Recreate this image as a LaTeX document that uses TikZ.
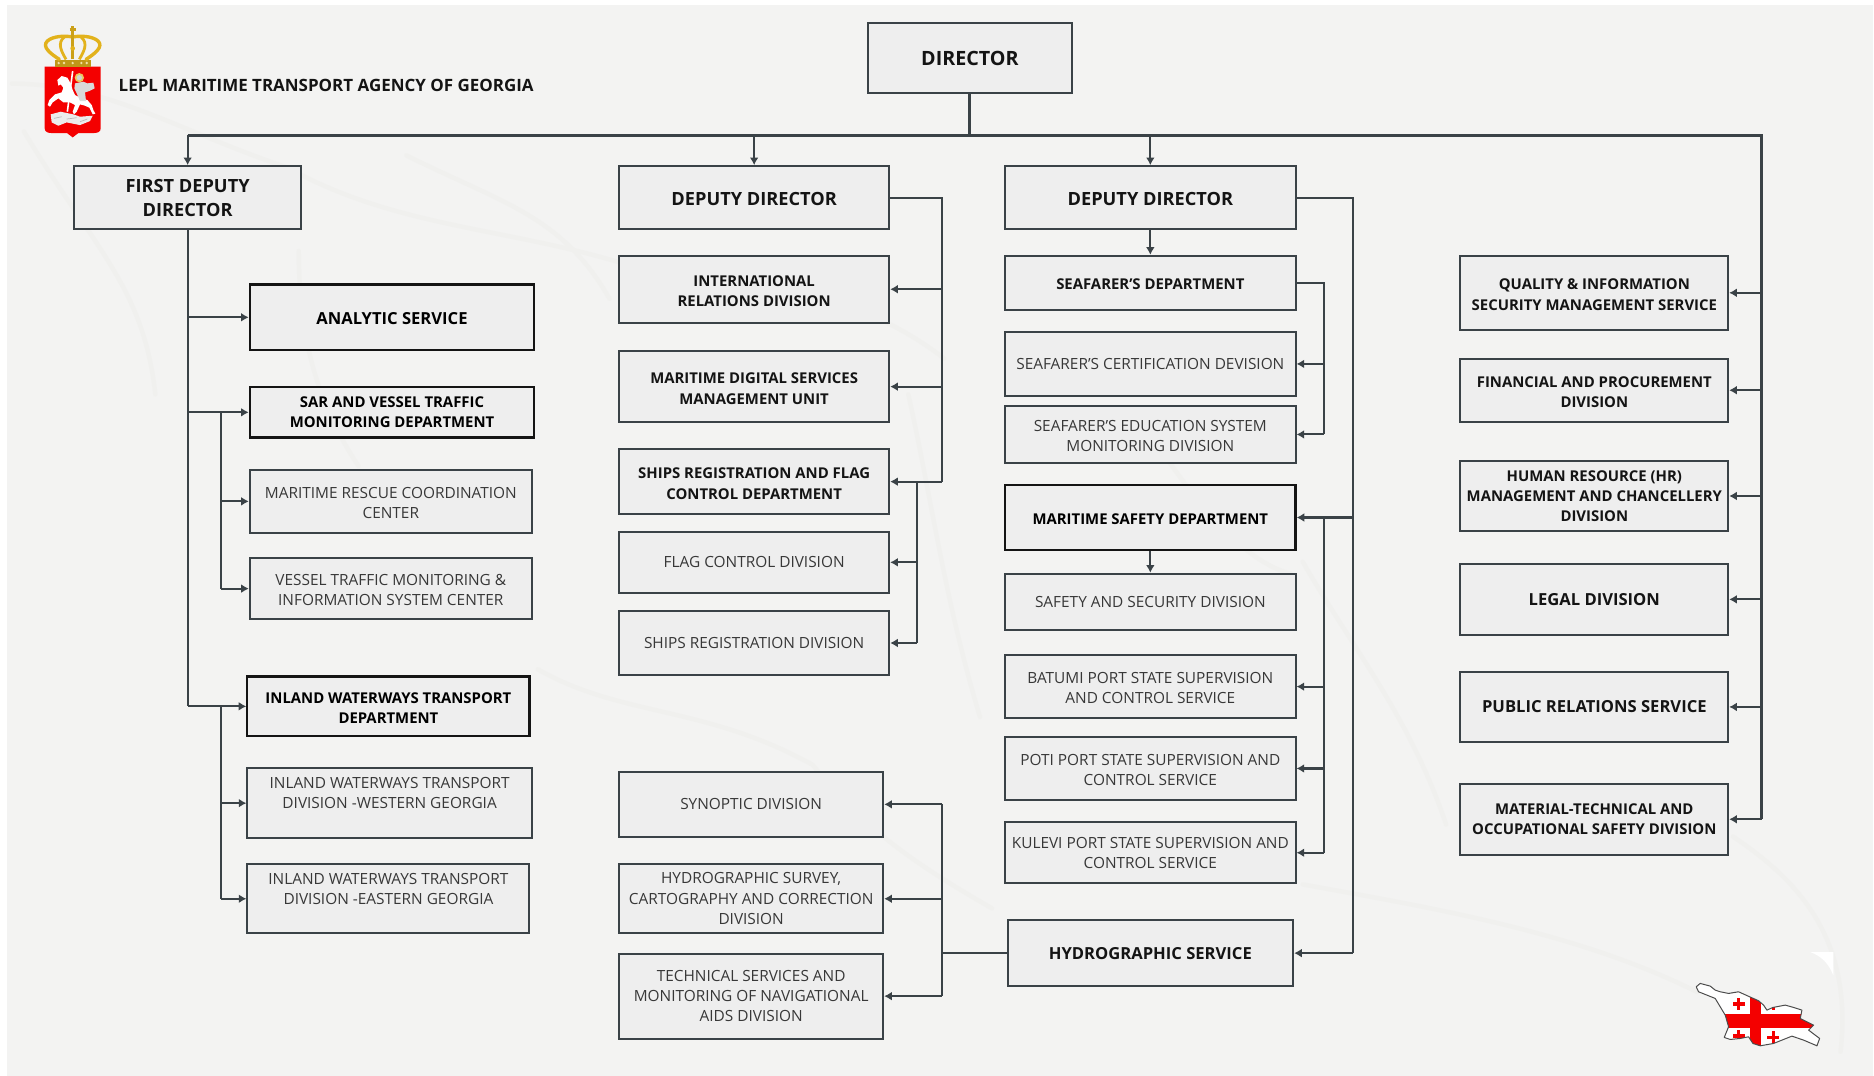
\documentclass[tikz,border=0pt]{standalone}
\usepackage{fontspec}
\setmainfont{Open Sans}
\usetikzlibrary{arrows.meta}
\definecolor{panel}{HTML}{F3F3F2}
\definecolor{boxfill}{HTML}{EEEEEE}
\definecolor{edge}{HTML}{3A4247}
\definecolor{wm}{HTML}{F0F0EE}
\definecolor{gold}{HTML}{E2B21C}
\definecolor{flagred}{HTML}{F40000}
\newcommand{\dn}{\rule{0pt}{7.3pt}}
\tikzset{
  boxst/.style={draw=edge,fill=boxfill,line width=1pt,align=center,inner sep=0pt,text=black!78},
  hvy/.style={draw=black!92,line width=1.1pt,text=black},
  regular/.style={font=\fontsize{7.7}{10.15}\selectfont},
  strong/.style={font=\fontsize{7.45}{10.15}\selectfont\bfseries,text=black!92},
  big/.style={font=\fontsize{8.3}{11.6}\selectfont\bfseries,text=black!92},
  lead/.style={font=\fontsize{9.1}{11.9}\selectfont\bfseries,text=black!92},
  bigger/.style={font=\fontsize{9.85}{12}\selectfont\bfseries,text=black!92},
  conn/.style={draw=edge,line width=1.05pt},
  bus/.style={draw=edge,line width=1.5pt},
  arr/.style={draw=edge,line width=1.05pt,-{Latex[length=3.8pt,width=4.4pt]}},
  wmline/.style={draw=wm,line width=2.2pt,line cap=round,line join=round},
}
\newcommand{\bx}[7][]{%
  \pgfmathsetlengthmacro{\bw}{(#5-#3)*0.5977pt}%
  \pgfmathsetlengthmacro{\bh}{(#6-#4)*0.5977pt}%
  \node[boxst,#1,minimum width=\bw,minimum height=\bh] (#2) at ({(#3+#5)/2},{(#4+#6)/2}) {#7};}
\begin{document}
\begin{tikzpicture}[x=0.5977pt,y=-0.5977pt]
\useasboundingbox (0,0) rectangle (1568,900.3);
\fill[white] (0,0) rectangle (1568,900.3);
\fill[panel] (6,4) rectangle (1567,900.3);
% faint watermark map
\draw[wmline] (10,70) .. controls (90,70) and (150,110) .. (240,140) .. controls (330,190) and (420,190) .. (520,220) .. controls (600,240) and (700,230) .. (790,300);
\draw[wmline] (20,110) .. controls (80,210) and (120,240) .. (130,330);
\draw[wmline] (340,130) .. controls (420,170) and (470,180) .. (510,250);
\draw[wmline] (250,210) .. controls (250,270) and (260,330) .. (300,390);
\draw[wmline] (450,560) .. controls (520,600) and (590,590) .. (680,640) .. controls (720,690) and (760,720) .. (830,760);
\draw[wmline] (1090,470) .. controls (1130,540) and (1180,600) .. (1210,690);
\draw[wmline] (960,360) .. controls (1000,420) and (1040,470) .. (1080,480);
\draw[wmline] (1450,700) .. controls (1510,740) and (1550,790) .. (1540,880);
\draw[wmline] (1090,740) .. controls (1200,760) and (1320,780) .. (1420,830);
\draw[wmline] (760,330) .. controls (780,420) and (790,500) .. (820,600);
% title and emblem
\node[anchor=west,inner sep=0pt,font=\fontsize{8.48}{10}\selectfont\bfseries,text=black!92] (title) at (99,71.5) {LEPL MARITIME TRANSPORT AGENCY OF GEORGIA};
\begin{scope}[shift={(25.1,12.55)},x=0.1668pt,y=-0.1668pt]
  \fill[flagred] (44,155) -- (212,155) -- (212,340) .. controls (212,352) and (200,354) .. (190,354) -- (145,354) -- (128,367) -- (111,354) -- (66,354) .. controls (56,354) and (44,352) .. (44,340) -- cycle;
  \fill[gold!85!black] (75,134) rectangle (182,155);
  \foreach \p in {86,102,128,154,170}{\fill[gold!40] (\p,144) circle (4);}
  \draw[gold,line width=1.7pt,line cap=round] (88,133) .. controls (60,115) and (35,95) .. (52,78) .. controls (70,62) and (108,62) .. (128,66) .. controls (148,62) and (186,62) .. (204,78) .. controls (221,95) and (196,115) .. (168,133);
  \draw[gold,line width=1.4pt] (108,133) .. controls (95,110) and (80,85) .. (103,66);
  \draw[gold,line width=1.4pt] (148,133) .. controls (161,110) and (176,85) .. (153,66);
  \draw[gold!90!black,line width=1.8pt] (128,133) -- (128,50);
  \draw[gold!90!black,line width=1.5pt] (119,42) -- (137,42) (128,33) -- (128,52);
  \fill[gold] (128,100) circle (7);
  % rider and horse
  \fill[gold!70!white] (148,188) circle (14);
  \fill[gray!35] (148,188) circle (8);
  \fill[white] (82,195) -- (95,183) -- (112,188) -- (122,205) -- (128,225) -- (135,240) -- (150,248) -- (172,255) -- (185,270) -- (190,285) -- (196,296) -- (188,298) -- (178,278) -- (165,272) -- (150,268) -- (140,290) -- (132,298) -- (128,290) -- (135,270) -- (120,262) -- (100,262) -- (85,250) -- (68,262) -- (60,275) -- (53,270) -- (58,255) -- (75,238) -- (95,232) -- (100,218) -- (92,208) -- (85,212) -- cycle;
  \fill[gray!30] (135,205) -- (160,200) -- (172,205) -- (190,203) -- (194,220) -- (178,228) -- (165,232) -- (168,258) -- (150,258) -- (140,235) -- (133,220) -- cycle;
  \draw[white,line width=0.8pt] (128,168) -- (112,290);
  \fill[gray!15] (62,298) -- (92,290) -- (130,298) -- (150,305) -- (188,302) -- (180,318) -- (150,330) -- (110,322) -- (85,332) -- (65,322) -- cycle;
  \draw[gray!55,line width=0.35pt] (72,310) -- (95,305) (110,312) -- (140,308) (150,320) -- (172,312);
\end{scope}
% boxes
\bx[bigger]{director}{726}{19}{897}{78}{DIRECTOR}
\bx[lead]{first}{62}{139}{252}{192}{FIRST DEPUTY\\DIRECTOR}
\bx[lead]{depone}{518}{139}{744}{192}{\dn DEPUTY DIRECTOR}
\bx[lead]{deptwo}{841}{139}{1084}{192}{\dn DEPUTY DIRECTOR}
\bx[strong,hvy,font=\fontsize{8.3}{10.15}\selectfont\bfseries]{analytic}{209}{238}{447}{293}{\dn ANALYTIC SERVICE}
\bx[strong,hvy]{sar}{209}{324}{447}{366}{SAR AND VESSEL TRAFFIC\\MONITORING DEPARTMENT}
\bx[regular]{mrcc}{209}{393}{445}{446}{\dn MARITIME RESCUE COORDINATION\\CENTER}
\bx[regular]{vtm}{209}{467}{445}{518}{\dn VESSEL TRAFFIC MONITORING \&\\INFORMATION SYSTEM CENTER}
\bx[strong,hvy]{iwt}{207}{566}{443}{616}{\dn INLAND WATERWAYS TRANSPORT\\DEPARTMENT}
\bx[regular]{iww}{207}{643}{445}{701}{INLAND WATERWAYS TRANSPORT\\DIVISION -WESTERN GEORGIA\\\phantom{X}}
\bx[regular]{iwe}{207}{723}{443}{781}{INLAND WATERWAYS TRANSPORT\\DIVISION -EASTERN GEORGIA\\\phantom{X}}
\bx[strong]{intl}{518}{214}{744}{270}{\dn INTERNATIONAL\\RELATIONS DIVISION}
\bx[strong]{digital}{518}{294}{744}{353}{\dn MARITIME DIGITAL SERVICES\\MANAGEMENT UNIT}
\bx[strong]{ships}{518}{376}{744}{430}{\dn SHIPS REGISTRATION AND FLAG\\CONTROL DEPARTMENT}
\bx[regular]{flag}{518}{445}{744}{496}{FLAG CONTROL DIVISION}
\bx[regular]{sreg}{518}{511}{744}{565}{SHIPS REGISTRATION DIVISION}
\bx[regular]{syn}{518}{646}{739}{700}{SYNOPTIC DIVISION}
\bx[regular]{survey}{518}{723}{739}{781}{HYDROGRAPHIC SURVEY,\\CARTOGRAPHY AND CORRECTION\\DIVISION}
\bx[regular]{tech}{518}{798}{739}{869}{TECHNICAL SERVICES AND\\MONITORING OF NAVIGATIONAL\\AIDS DIVISION}
\bx[strong]{seafarer}{841}{214}{1084}{259}{\dn SEAFARER’S DEPARTMENT}
\bx[regular]{cert}{841}{278}{1084}{331}{SEAFARER’S CERTIFICATION DEVISION}
\bx[regular]{edu}{841}{340}{1084}{387}{\dn SEAFARER’S EDUCATION SYSTEM\\MONITORING DIVISION}
\bx[strong,hvy]{msd}{841}{406}{1084}{460}{\dn MARITIME SAFETY DEPARTMENT}
\bx[regular]{safety}{841}{480}{1084}{527}{SAFETY AND SECURITY DIVISION}
\bx[regular]{batumi}{841}{548}{1084}{601}{\dn BATUMI PORT STATE SUPERVISION\\AND CONTROL SERVICE}
\bx[regular]{poti}{841}{617}{1084}{669}{\dn POTI PORT STATE SUPERVISION AND\\CONTROL SERVICE}
\bx[regular]{kulevi}{841}{688}{1084}{739}{KULEVI PORT STATE SUPERVISION AND\\CONTROL SERVICE}
\bx[big]{hs}{843}{770}{1082}{825}{HYDROGRAPHIC SERVICE}
\bx[strong]{qis}{1222}{214}{1446}{276}{\dn QUALITY \& INFORMATION\\SECURITY MANAGEMENT SERVICE}
\bx[strong]{fin}{1222}{300}{1446}{353}{\dn FINANCIAL AND PROCUREMENT\\DIVISION}
\bx[strong]{hr}{1222}{386}{1446}{444}{HUMAN RESOURCE (HR)\\MANAGEMENT AND CHANCELLERY\\DIVISION}
\bx[big]{legal}{1222}{472}{1446}{531}{LEGAL DIVISION}
\bx[big]{pr}{1222}{562}{1446}{621}{PUBLIC RELATIONS SERVICE}
\bx[strong]{mat}{1222}{656}{1446}{715}{MATERIAL-TECHNICAL AND\\OCCUPATIONAL SAFETY DIVISION}
% trunk coordinates
\coordinate (busr) at (1474,113);
\coordinate (ta) at (185,345);
\coordinate (tb) at (788,200);
\coordinate (tc) at (767,403);
\coordinate (td) at (1132,300);
\coordinate (te) at (1108,300);
% top bus
\draw[bus] (director.south) -- (director.south |- busr);
\draw[bus] (first.north |- busr) -- (busr) -- (busr |- mat.east);
\foreach \n in {first,depone,deptwo}{\draw[arr] (\n.north |- busr) -- (\n.north);}
\foreach \n in {qis,fin,hr,legal,pr,mat}{\draw[arr] (busr |- \n.east) -- (\n.east);}
% first deputy
\draw[conn] (first.south) -- (first.south |- iwt.west);
\foreach \n in {analytic,sar,iwt}{\draw[arr] (first.south |- \n.west) -- (\n.west);}
\draw[conn] (ta |- sar.west) -- (ta |- vtm.west);
\draw[conn] (ta |- iwt.west) -- (ta |- iwe.west);
\foreach \n in {mrcc,vtm,iww,iwe}{\draw[arr] (ta |- \n.west) -- (\n.west);}
% deputy one
\draw[conn] (depone.east) -| (tb |- ships.east);
\foreach \n in {intl,digital,ships}{\draw[arr] (tb |- \n.east) -- (\n.east);}
\draw[conn] (tc |- ships.east) -- (tc |- sreg.east);
\foreach \n in {flag,sreg}{\draw[arr] (tc |- \n.east) -- (\n.east);}
% deputy two
\draw[arr] (deptwo.south) -- (seafarer.north);
\draw[conn] (deptwo.east) -| (td |- hs.east);
\draw[arr] (td |- hs.east) -- (hs.east);
\draw[arr] (td |- msd.east) -- (msd.east);
\draw[conn] (seafarer.east) -| (te |- edu.east);
\foreach \n in {cert,edu}{\draw[arr] (te |- \n.east) -- (\n.east);}
\draw[arr] (msd.south) -- (safety.north);
\draw[conn] (te |- msd.east) -- (te |- kulevi.east);
\foreach \n in {batumi,poti,kulevi}{\draw[arr] (te |- \n.east) -- (\n.east);}
% hydrographic
\draw[conn] (hs.west) -- (tb |- hs.west);
\draw[conn] (tb |- syn.east) -- (tb |- tech.east);
\foreach \n in {syn,survey,tech}{\draw[arr] (tb |- \n.east) -- (\n.east);}
% map of Georgia with flag
\fill[white] (1514.7,796.6) -- (1533.9,796.6) -- (1533.9,816) .. controls (1530,806) and (1524,800) .. (1514.7,796.6) -- cycle;
\begin{scope}[shift={(1389.1,778.2)},x=0.1668pt,y=-0.1668pt]
  \def\geo{(108,170) -- (120,160) -- (150,168) -- (165,180) -- (180,185) -- (205,190) -- (235,185) -- (268,200) -- (295,212) -- (310,225) -- (320,240) -- (338,232) -- (375,225) -- (400,232) -- (425,240) -- (420,265) -- (460,285) -- (445,300) -- (478,325) -- (470,347) -- (430,330) -- (395,318) -- (365,330) -- (340,340) -- (300,347) -- (278,340) -- (265,320) -- (240,325) -- (210,328) -- (192,322) -- (205,290) -- (195,255) -- (165,205) -- (115,185) -- cycle}
  \fill[white] \geo;
  \begin{scope}
    \clip \geo;
    \fill[flagred] (268,150) rectangle (303,360);
    \fill[flagred] (180,253) rectangle (480,293);
    \foreach \c in {(235,222),(339,322),(235,318),(339,222)}{
      \fill[flagred] \c +(-18,-5) rectangle +(18,5);
      \fill[flagred] \c +(-5,-18) rectangle +(5,18);
    }
  \end{scope}
  \draw[black!70,line width=0.5pt,line join=round] \geo;
\end{scope}
\end{tikzpicture}
\end{document}
